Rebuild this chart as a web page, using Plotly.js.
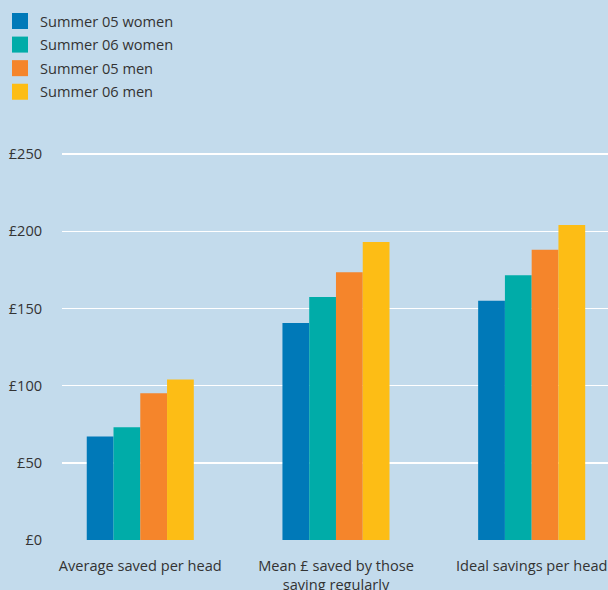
<!DOCTYPE html>
<html><head><meta charset="utf-8">
<script src="https://cdn.plot.ly/plotly-3.0.1.min.js"></script>
<style>html,body{margin:0;padding:0;background:#c3dbec;}#chart{width:608px;height:590px;}</style>
</head><body><div id="chart"></div>
<script>
const categories = ["Average saved per head", "Mean £ saved by those<br>saving regularly", "Ideal savings per head"];
const seriesNames = ["Summer 05 women", "Summer 06 women", "Summer 05 men", "Summer 06 men"];
const women05 = [67, 140.5, 155];
const women06 = [73, 157.5, 171.5];
const men05 = [95, 173.5, 188];
const men06 = [104, 193, 204];
const tickVals = [0, 50, 100, 150, 200, 250];
const tickText = ["£0", "£50", "£100", "£150", "£200", "£250"];
const colors = ["#0079b8", "#00aca8", "#f5852b", "#fdbd15"];

const series = [women05, women06, men05, men06];
const traces = series.map((vals, i) => ({
  type: 'bar', x: [0, 1, 2], y: vals, name: seriesNames[i], showlegend: false,
  marker: {color: colors[i], line: {width: 0}}, hoverinfo: 'none'
}));
const legendTraces = seriesNames.map((n, i) => ({
  type: 'scatter', mode: 'markers', x: [null], y: [null], name: n, legendgroup: 'g' + i,
  marker: {symbol: 'square', size: 16, color: colors[i], line: {width: 0}}, hoverinfo: 'none'
}));

const layout = {
  width: 608, height: 590,
  paper_bgcolor: '#c3dbec', plot_bgcolor: '#c3dbec',
  font: {family: 'Open Sans, sans-serif', size: 14.6, color: '#333333'},
  margin: {l: 62, r: 0, t: 151, b: 50, pad: 0, autoexpand: false},
  barmode: 'group', bargap: 0.453, bargroupgap: 0,
  showlegend: true,
  legend: {xref: 'container', yref: 'container', x: 0, y: 0.9915, xanchor: 'left', yanchor: 'top',
    bgcolor: 'rgba(0,0,0,0)', font: {size: 14.6, color: '#333333'}, itemwidth: 30, tracegroupgap: 1.6, traceorder: 'grouped'},
  xaxis: {range: [-0.40, 2.39], tickvals: [0, 1, 2], ticktext: categories, showgrid: false, zeroline: false,
    showline: false, ticks: 'outside', ticklen: 12, tickcolor: 'rgba(0,0,0,0)', tickangle: 0, automargin: false, fixedrange: true},
  yaxis: {range: [0, 252], tickvals: tickVals, ticktext: tickText, showgrid: true, gridcolor: '#ffffff', gridwidth: 1.5,
    zeroline: false, showline: false, ticks: 'outside', ticklen: 16, tickcolor: 'rgba(0,0,0,0)', automargin: false, fixedrange: true}
};
Plotly.newPlot('chart', legendTraces.concat(traces), layout, {displayModeBar: false, staticPlot: true});
</script></body></html>
